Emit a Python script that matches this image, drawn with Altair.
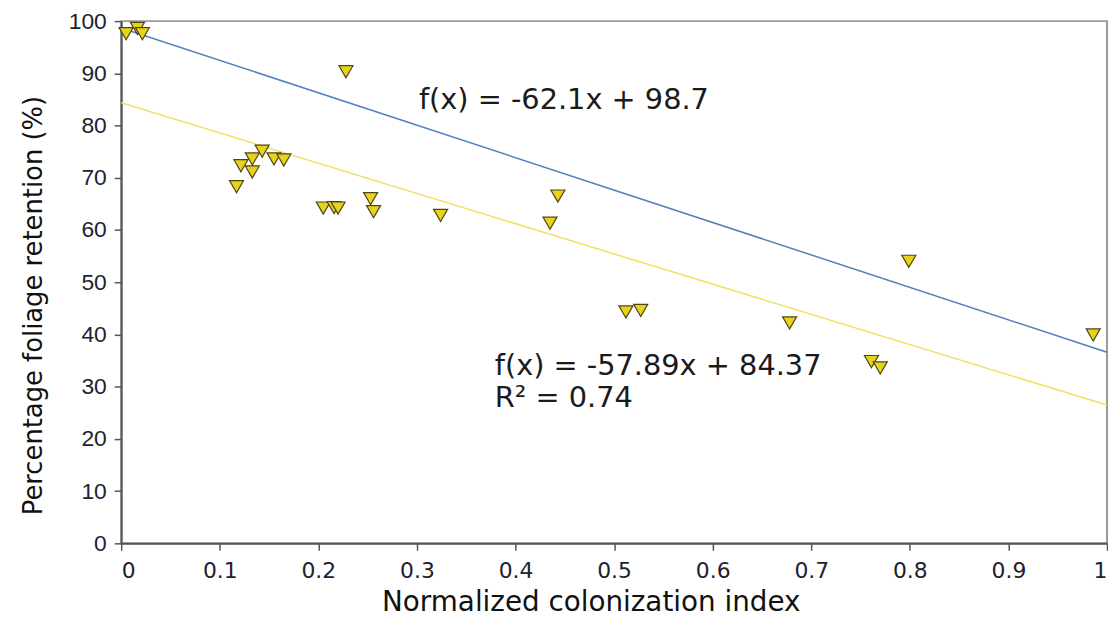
import altair as alt
import pandas as pd

# Scatter data
colonization = [0.005, 0.0165, 0.0215, 0.228, 0.117, 0.1215, 0.133, 0.133, 0.143, 0.155, 0.165,
                0.205, 0.216, 0.220, 0.253, 0.256, 0.324, 0.435, 0.443, 0.512, 0.527,
                0.678, 0.761, 0.770, 0.799, 0.986]
retention = [97.6, 98.6, 97.6, 90.3, 68.3, 72.3, 73.6, 71.1, 75.1, 73.6, 73.4,
             64.2, 64.3, 64.2, 66.0, 63.5, 62.8, 61.3, 66.5, 44.3, 44.6,
             42.2, 34.8, 33.6, 54.0, 39.9]

# Trend lines
fit_names = ["blue", "yellow"]
fit_slopes = [-62.1, -57.89]
fit_intercepts = [98.7, 84.37]
fit_x = [0.0, 1.0]

# Annotations
ann_text = ["f(x) = -62.1x + 98.7", "f(x) = -57.89x + 84.37", "R² = 0.74"]
ann_x = [0.302, 0.379, 0.379]
ann_y = [84.8, 33.9, 27.8]

pts = pd.DataFrame({"x": colonization, "y": retention})
lines = pd.DataFrame([
    {"fit": n, "x": xv, "y": s * xv + b}
    for n, s, b in zip(fit_names, fit_slopes, fit_intercepts) for xv in fit_x
])
ann = pd.DataFrame({"t": ann_text, "x": ann_x, "y": ann_y})

xs = alt.Scale(domain=[0, 1], nice=False, zero=False)
ys = alt.Scale(domain=[0, 100], nice=False)

xenc = alt.X("x:Q", scale=xs, title="Normalized colonization index",
             axis=alt.Axis(values=[0, 0.1, 0.2, 0.3, 0.4, 0.5, 0.6, 0.7, 0.8, 0.9, 1],
                           labelExpr="datum.value == 0 ? '0' : datum.value == 1 ? '1' : format(datum.value, '.1f')",
                           titleX=473, titleY=68, titleBaseline="alphabetic"))
yenc = alt.Y("y:Q", scale=ys, title="Percentage foliage retention (%)",
             axis=alt.Axis(values=list(range(0, 101, 10)), titleY=286))

line_layer = alt.Chart(lines).mark_line(strokeWidth=1.5, clip=True).encode(
    x=xenc, y=yenc,
    color=alt.Color("fit:N", scale=alt.Scale(domain=fit_names, range=["#4f7fb8", "#f3e062"]), legend=None),
)

pt_layer = alt.Chart(pts).mark_point(
    shape="triangle-down", size=200, filled=True, fill="#e8d31c",
    stroke="#4d4518", strokeWidth=1.2, opacity=1, clip=False
).encode(x=xenc, y=yenc)

txt_layer = alt.Chart(ann).mark_text(
    align="left", baseline="middle", fontSize=29, font="DejaVu Sans", color="#1a1a1a"
).encode(x=alt.X("x:Q", scale=xs), y=alt.Y("y:Q", scale=ys), text="t:N")

chart = alt.layer(line_layer, pt_layer, txt_layer).properties(
    width=993, height=526,
    autosize=alt.AutoSizeParams(type="none"),
    padding={"left": 114, "top": 11, "right": 1, "bottom": 75},
).configure_view(
    stroke="#9a9a9a", strokeWidth=2
).configure_axis(
    domainColor="#555555", domainWidth=2, tickColor="#555555", tickWidth=1.5, tickSize=7,
    labelColor="#1e2230",
    titleFont="DejaVu Sans", titleFontWeight="normal", titleColor="#111111",
    grid=False,
).configure_axisX(
    labelFont="DejaVu Sans", labelFontSize=22, labelPadding=10, titleFontSize=28
).configure_axisY(
    labelFont="Liberation Sans", labelFontSize=23, labelPadding=8, titlePadding=22, titleFontSize=26
)

chart.save("out.html", embed_options={"renderer": "svg", "actions": False})
